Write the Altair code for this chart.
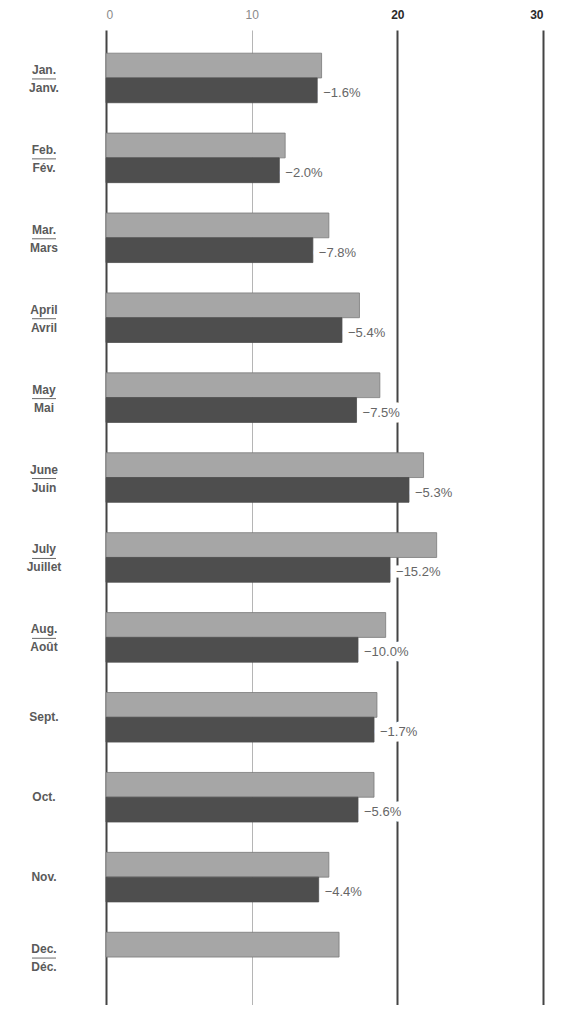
import altair as alt
import pandas as pd

months_en = ["Jan.", "Feb.", "Mar.", "April", "May", "June", "July", "Aug.", "Sept.", "Oct.", "Nov.", "Dec."]
months_fr = ["Janv.", "Fév.", "Mars", "Avril", "Mai", "Juin", "Juillet", "Août", "", "", "", "Déc."]
prev_year = [14.8, 12.3, 15.3, 17.4, 18.8, 21.8, 22.7, 19.2, 18.6, 18.4, 15.3, 16.0]
curr_year = [14.5, 11.9, 14.2, 16.2, 17.2, 20.8, 19.5, 17.3, 18.4, 17.3, 14.6, None]
changes = ["−1.6%", "−2.0%", "−7.8%", "−5.4%", "−7.5%", "−5.3%", "−15.2%", "−10.0%", "−1.7%", "−5.6%", "−4.4%", None]
x_ticks = [0, 10, 20, 30]

rows = []
for m, p, c in zip(months_en, prev_year, curr_year):
    rows.append({"month": m, "series": "prev", "value": p})
    if c is not None:
        rows.append({"month": m, "series": "curr", "value": c})
bars_df = pd.DataFrame(rows)

lab_df = pd.DataFrame([
    {"month": m, "value": c, "change": ch}
    for m, c, ch in zip(months_en, curr_year, changes) if ch is not None
])
dual_df = pd.DataFrame([{"month": m, "fr": f} for m, f in zip(months_en, months_fr) if f])
single_df = pd.DataFrame([{"month": m} for m, f in zip(months_en, months_fr) if not f])

FONT = "Liberation Sans"
W, H = 437, 975

yscale = alt.Scale(domain=months_en, paddingInner=0.38, paddingOuter=0.29)
xscale = alt.Scale(domain=[0, 30], nice=False, zero=True)
Y = alt.Y("month:N", scale=yscale, sort=months_en, axis=None)

xaxis = alt.Axis(
    orient="top", values=x_ticks, domain=False, ticks=False, tickSize=0,
    labelPadding=9, labelFont=FONT, labelFontSize=12, title=None,
    labelColor={"condition": {"test": "datum.value >= 20", "value": "#2a2a2a"}, "value": "#8a8a8a"},
    labelFontWeight={"condition": {"test": "datum.value >= 20", "value": "bold"}, "value": "normal"},
    grid=True,
    gridColor={"condition": {"test": "datum.value == 10", "value": "#b5b5b5"}, "value": "#444444"},
    gridWidth={"condition": {"test": "datum.value == 10", "value": 1}, "value": 2},
)

bars = alt.Chart(bars_df).mark_bar(strokeWidth=0.8).encode(
    x=alt.X("value:Q", scale=xscale, axis=xaxis),
    y=Y,
    yOffset=alt.YOffset("series:N", sort=["prev", "curr"],
                        scale=alt.Scale(domain=["prev", "curr"], paddingInner=0, paddingOuter=0)),
    color=alt.Color("series:N", scale=alt.Scale(domain=["prev", "curr"], range=["#a6a6a6", "#4e4e4e"]), legend=None),
    stroke=alt.Stroke("series:N", scale=alt.Scale(domain=["prev", "curr"], range=["#7a7a7a", "#4e4e4e"]), legend=None),
)

halo = alt.Chart(lab_df).mark_text(
    align="left", baseline="middle", dx=6, dy=15, font=FONT, fontSize=13,
    fill="white", stroke="white", strokeWidth=11, strokeJoin="round",
).encode(x=alt.X("value:Q", scale=xscale), y=Y, text="change:N")

pct = alt.Chart(lab_df).mark_text(
    align="left", baseline="middle", dx=6, dy=15, font=FONT, fontSize=13, color="#666666",
).encode(x=alt.X("value:Q", scale=xscale), y=Y, text="change:N")

LX = -62
en_dual = alt.Chart(dual_df).mark_text(
    align="center", baseline="middle", dy=-8, font=FONT, fontSize=12, fontWeight="bold", color="#5a5a5a",
).encode(x=alt.value(LX), y=Y, text="month:N")

fr_dual = alt.Chart(dual_df).mark_text(
    align="center", baseline="middle", dy=10, font=FONT, fontSize=12, fontWeight="bold", color="#5a5a5a",
).encode(x=alt.value(LX), y=Y, text="fr:N")

underline = alt.Chart(dual_df).mark_rule(color="#6a6a6a", strokeWidth=1, yOffset=1).encode(
    x=alt.value(LX - 12), x2=alt.value(LX + 12), y=Y,
)

en_single = alt.Chart(single_df).mark_text(
    align="center", baseline="middle", dy=0, font=FONT, fontSize=12, fontWeight="bold", color="#5a5a5a",
).encode(x=alt.value(LX), y=Y, text="month:N")

chart = alt.layer(bars, halo, pct, en_dual, fr_dual, underline, en_single).properties(
    width=W, height=H,
    autosize=alt.AutoSizeParams(type="none"),
    padding={"left": 98, "top": 22, "right": 10, "bottom": 0},
    background="white",
).configure_view(stroke=None)

chart.save("out.html", embed_options={"renderer": "svg", "actions": False})
